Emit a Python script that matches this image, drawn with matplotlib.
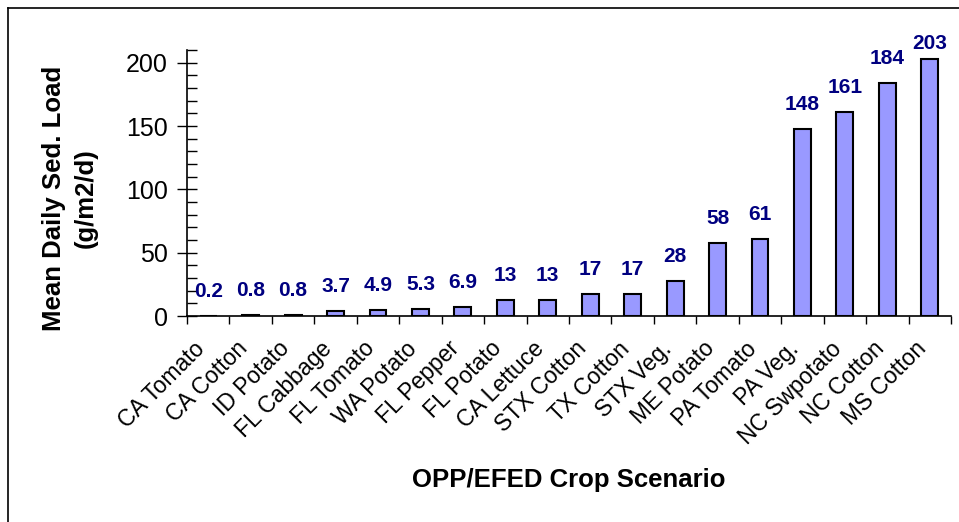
import matplotlib
matplotlib.use("Agg")
import matplotlib.pyplot as plt
from matplotlib.lines import Line2D
from matplotlib.ticker import MultipleLocator
import matplotlib.transforms as mtransforms
import numpy as np

plt.rcParams['font.family'] = ['Liberation Sans', 'DejaVu Sans']

categories = ["CA Tomato", "CA Cotton", "ID Potato", "FL Cabbage", "FL Tomato",
              "WA Potato", "FL Pepper", "FL Potato", "CA Lettuce", "STX Cotton",
              "TX Cotton", "STX Veg.", "ME Potato", "PA Tomato", "PA Veg.",
              "NC Swpotato", "NC Cotton", "MS Cotton"]
values = [0.2, 0.8, 0.8, 3.7, 4.9, 5.3, 6.9, 13, 13, 17, 17, 28, 58, 61, 148, 161, 184, 203]
value_labels = ["0.2", "0.8", "0.8", "3.7", "4.9", "5.3", "6.9", "13", "13", "17",
                "17", "28", "58", "61", "148", "161", "184", "203"]

W, H = 959, 522
fig = plt.figure(figsize=(W / 100, H / 100), dpi=100)
ax = fig.add_axes([187 / W, 1 - 316 / H, (951 - 187) / W, (316 - 50) / H])

x = np.arange(len(categories))
ax.bar(x, values, width=0.4, color="#9999FF", edgecolor="black", linewidth=1.5, zorder=3)

ymax = 210
for xi, v, lab in zip(x, values, value_labels):
    ax.text(xi, min(v + 15, ymax + 1), lab, ha="center", va="baseline",
            color="#000080", fontsize=15, fontweight="bold", clip_on=False)

ax.set_xlim(-0.5, len(categories) - 0.5)
ax.set_ylim(0, ymax)

ax.spines["top"].set_visible(False)
ax.spines["right"].set_visible(False)
for s in ("left", "bottom"):
    ax.spines[s].set_linewidth(1.2)

ax.yaxis.set_major_locator(MultipleLocator(50))
ax.yaxis.set_minor_locator(MultipleLocator(10))
ax.tick_params(axis="y", which="major", direction="inout", length=14, width=1.0,
               labelsize=18, pad=7)
ax.tick_params(axis="y", which="minor", direction="in", length=7, width=1.0)

ax.set_xticks(x)
ax.set_xticklabels(categories, rotation=45, ha="right", va="center",
                   rotation_mode="anchor", fontsize=16.5)
ax.tick_params(axis="x", which="major", length=0, pad=21)
offset = mtransforms.ScaledTranslation(-7 / 100, 0, fig.dpi_scale_trans)
for lbl in ax.get_xticklabels():
    lbl.set_transform(lbl.get_transform() + offset)
ax.set_xticks(np.arange(-0.5, len(categories), 1.0), minor=True)
ax.tick_params(axis="x", which="minor", direction="out", length=6, width=1.0)

fig.text(569 / W, 1 - 480 / H, "OPP/EFED Crop Scenario", ha="center", va="center",
         fontsize=18.5, fontweight="bold")
fig.text(70 / W, 1 - 198 / H, "Mean Daily Sed. Load\n(g/m2/d)", ha="center", va="center",
         rotation=90, fontsize=18.5, fontweight="bold", linespacing=1.4)

# outer frame (left and top edges visible)
fig.add_artist(Line2D([8 / W, 8 / W], [0, 1 - 8 / H], transform=fig.transFigure,
                      color="black", linewidth=1.2))
fig.add_artist(Line2D([8 / W, 1], [1 - 8 / H, 1 - 8 / H], transform=fig.transFigure,
                      color="black", linewidth=1.2))

fig.savefig("out.png", dpi=100)
